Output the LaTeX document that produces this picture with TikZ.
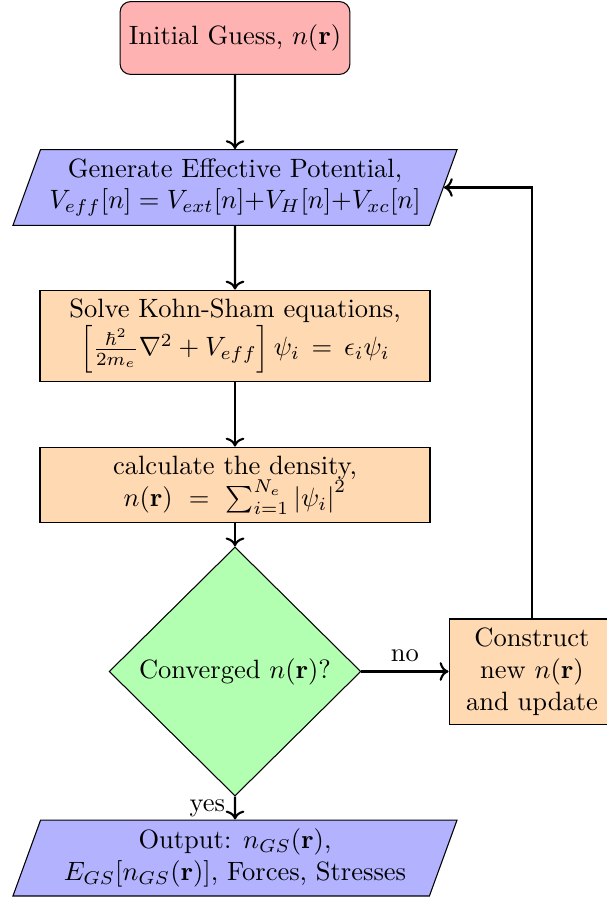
\documentclass[tikz,border=0pt]{standalone}
\usepackage{amsmath,amssymb,bm}
\usepackage{tikz}
\usetikzlibrary{positioning,arrows.meta,calc,shapes.geometric}

\begin{document}
\begin{tikzpicture}[x=0.3774pt,y=0.3774pt,
  startbox/.style={draw,rounded corners=4pt,fill=red!30,align=center,minimum width=86pt,minimum height=27.5pt},
  iobox/.style={draw,trapezium,trapezium left angle=70,trapezium right angle=110,trapezium stretches body,fill=blue!30,align=center,minimum width=167.6pt,minimum height=28.3pt,inner xsep=0pt},
  procbox/.style={draw,fill=orange!30,align=center,minimum width=147.2pt,minimum height=27.9pt},
  decbox/.style={draw,diamond,fill=green!30,align=center,minimum width=95pt,minimum height=94pt,inner sep=0pt},
  flow/.style={->,thick}]
\useasboundingbox (0,0) rectangle (606,-897);
% --- main column ---
\node[startbox] (start) at (235,-38) {Initial Guess, $n(\mathbf{r})$};
\node[iobox] (veff) at (235,-187.5) {Generate Effective Potential,\\ $V_{eff}[n] = V_{ext}[n]{+}V_H[n]{+}V_{xc}[n]$};
\node[procbox,minimum height=34pt] (ks) at (235,-336) {Solve Kohn-Sham equations,\\ $\left[\frac{\hbar^2}{2m_e}\nabla^2+V_{eff}\right]\psi_i\,=\,\epsilon_i\psi_i$};
\node[procbox] (dens) at (235,-485) {calculate the density,\\ $n(\mathbf{r})\ =\ \sum_{i=1}^{N_e}\left|\psi_i\right|^2$};
\node[decbox] (conv) at (235,-671.5) {Converged $n(\mathbf{r})$?};
\node[iobox] (out) at (235,-858) {Output: $n_{GS}(\mathbf{r})$,\\ $E_{GS}[n_{GS}(\mathbf{r})]$, Forces, Stresses};
% --- update branch ---
\node[procbox,minimum width=62.6pt,minimum height=38.9pt] (upd) at (532,-671.5) {Construct\\ new $n(\mathbf{r})$\\ and update};
% --- connectors ---
\draw[flow] (start) -- (veff);
\draw[flow] (veff) -- (ks);
\draw[flow] (ks) -- (dens);
\draw[flow] (dens) -- (conv);
\draw[flow] (conv) -- node[left] {yes} (out);
\draw[flow] (conv) -- node[above] {no} (upd);
\draw[flow] (upd.north) |- (veff.east);
\end{tikzpicture}
\end{document}
